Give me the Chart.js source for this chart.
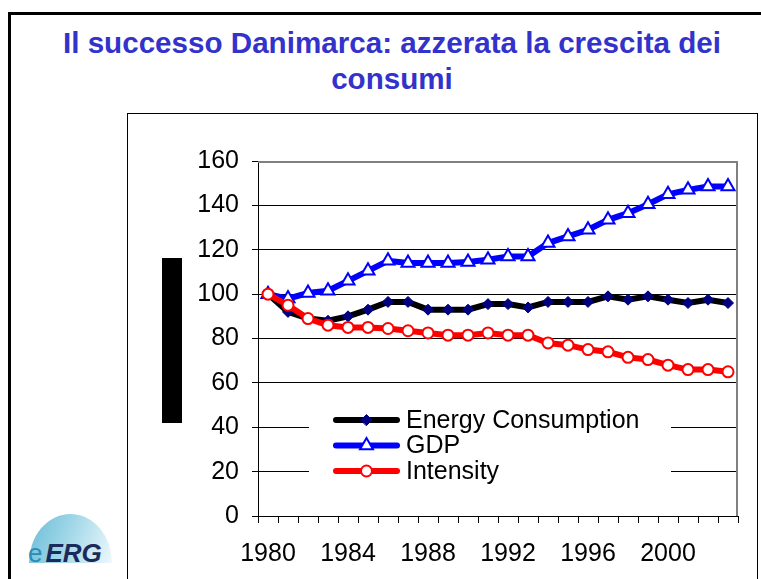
<!DOCTYPE html>
<html>
<head>
<meta charset="utf-8">
<script src="https://cdn.jsdelivr.net/npm/chart.js@4.4.1/dist/chart.umd.min.js"></script>
<style>
  html, body { margin: 0; padding: 0; background: #fff; }
  body { width: 761px; height: 579px; position: relative; overflow: hidden; font-family: 'Liberation Sans', Arial, sans-serif; }
  .frame { position: absolute; left: 8px; top: 12px; width: 900px; height: 700px; border-left: 3px solid #000; border-top: 3px solid #000; }
  .title { position: absolute; left: 22px; width: 740px; top: 25px; text-align: center; color: #3333cc; font-weight: bold; font-size: 29.6px; line-height: 36px; }
  .box { position: absolute; left: 127px; top: 113px; width: 629px; height: 600px; border: 1px solid #000; }
  .bar { position: absolute; left: 162px; top: 258px; width: 20px; height: 165px; background: #000; }
  .dome { position: absolute; left: 29px; top: 514px; width: 83px; height: 49px; border-radius: 50% 50% 0 0 / 100% 100% 0 0;
          background: linear-gradient(110deg, #69bcd8 0%, #9fd6e8 45%, #eef8fc 100%); }
  .logo { position: absolute; left: 28px; top: 540px; font-size: 26px; line-height: 26px; white-space: nowrap; }
  .logo .e { color: #2a8cb6; margin-right: 3px; }
  .logo .erg { color: #1c2a5a; font-weight: bold; font-style: italic; }
  canvas { position: absolute; left: 0; top: 0; }
</style>
</head>
<body>
<div class="frame"></div>
<div class="title">Il successo Danimarca: azzerata la crescita dei<br>consumi</div>
<div class="box"></div>
<div class="bar"></div>
<div class="dome"></div>
<div class="logo"><span class="e">e</span><span class="erg">ERG</span></div>
<canvas id="chart" width="761" height="579"></canvas>
<script>
const years = ['1980', '1981', '1982', '1983', '1984', '1985', '1986', '1987', '1988', '1989', '1990', '1991',
               '1992', '1993', '1994', '1995', '1996', '1997', '1998', '1999', '2000', '2001', '2002', '2003'];
const tickYears = ['1980', '1984', '1988', '1992', '1996', '2000'];
const energyConsumption = [100, 92, 89, 88, 90, 93, 96.5, 96.5, 93, 93, 93, 95.5,
                           95.5, 94, 96.5, 96.5, 96.5, 99, 97.5, 99, 97.5, 96, 97.5, 96];
const gdp = [100, 98, 100.5, 101.5, 106, 110.5, 115, 114, 114, 114, 114.5, 115.5,
             117, 117, 123, 126, 129, 133.5, 136.5, 140.5, 145, 147, 148.5, 148.5];
const intensity = [100, 95, 89, 86, 85, 85, 84.5, 83.5, 82.5, 81.5, 81.5, 82.5,
                   81.5, 81.5, 78, 77, 75, 74, 71.5, 70.5, 68, 66, 66, 65];

Chart.defaults.font.family = "'Liberation Sans', Arial, sans-serif";
Chart.defaults.color = '#000';

// gray frame on top and right of the plot area
const plotFrame = {
  id: 'plotFrame',
  beforeDatasetsDraw(chart) {
    const { ctx, chartArea: a } = chart;
    ctx.save();
    ctx.strokeStyle = '#808080';
    ctx.lineWidth = 2;
    ctx.beginPath();
    ctx.moveTo(a.left, a.top + 1);
    ctx.lineTo(a.right - 1, a.top + 1);
    ctx.lineTo(a.right - 1, a.bottom);
    ctx.stroke();
    ctx.restore();
  }
};

// legend box sitting inside the plot, like the Excel original
const boxLegend = {
  id: 'boxLegend',
  afterDraw(chart, args, opts) {
    const ctx = chart.ctx;
    ctx.save();
    ctx.fillStyle = '#fff';
    ctx.fillRect(opts.x, opts.y, opts.w, opts.h);
    chart.data.datasets.forEach((ds, i) => {
      const y = opts.firstRow + i * opts.rowGap;
      ctx.strokeStyle = ds.borderColor;
      ctx.lineWidth = 6;
      ctx.lineCap = 'round';
      ctx.beginPath();
      ctx.moveTo(opts.lineFrom, y);
      ctx.lineTo(opts.lineTo, y);
      ctx.stroke();
      ctx.fillStyle = ds.pointBackgroundColor;
      ctx.strokeStyle = ds.pointBorderColor;
      ctx.lineWidth = ds.pointBorderWidth;
      Chart.helpers.drawPoint(ctx, { pointStyle: ds.pointStyle, radius: ds.pointRadius, rotation: 0, borderWidth: ds.pointBorderWidth },
        (opts.lineFrom + opts.lineTo) / 2, y);
      ctx.fillStyle = '#000';
      ctx.font = "25px 'Liberation Sans', Arial, sans-serif";
      ctx.textBaseline = 'middle';
      ctx.fillText(ds.label, opts.textX, y + 1);
    });
    ctx.restore();
  }
};

const ctx = document.getElementById('chart').getContext('2d');
const myChart = new Chart(ctx, {
  type: 'line',
  data: {
    labels: years,
    datasets: [
      {
        label: 'Energy Consumption',
        data: energyConsumption,
        borderColor: '#000000',
        borderWidth: 6,
        pointStyle: 'rectRot',
        pointRadius: 5.5,
        pointBackgroundColor: '#000080',
        pointBorderColor: '#000080',
        pointBorderWidth: 1,
        order: 2
      },
      {
        label: 'GDP',
        data: gdp,
        borderColor: '#0000ff',
        borderWidth: 6,
        pointStyle: 'triangle',
        pointRadius: 7.5,
        pointBackgroundColor: '#ffffff',
        pointBorderColor: '#0000ff',
        pointBorderWidth: 2,
        order: 1
      },
      {
        label: 'Intensity',
        data: intensity,
        borderColor: '#ff0000',
        borderWidth: 6,
        pointStyle: 'circle',
        pointRadius: 5.5,
        pointBackgroundColor: '#ffffff',
        pointBorderColor: '#ff0000',
        pointBorderWidth: 2,
        order: 0
      }
    ]
  },
  options: {
    responsive: false,
    animation: false,
    devicePixelRatio: 1,
    layout: { padding: { top: 161, right: 23, bottom: 0, left: 0 } },
    plugins: {
      legend: { display: false },
      tooltip: { enabled: false },
      boxLegend: { x: 309, y: 397, w: 362, h: 96, firstRow: 420, rowGap: 25.5, lineFrom: 336, lineTo: 397, textX: 406 }
    },
    scales: {
      x: {
        offset: true,
        afterFit: s => { s.height = 63; },
        grid: { display: true, drawOnChartArea: false, offset: true, tickLength: 7, color: '#000', lineWidth: 1 },
        border: { display: true, color: '#000', width: 1 },
        ticks: {
          autoSkip: false,
          maxRotation: 0,
          padding: 16,
          font: { size: 25 },
          callback: function (value, index) {
            return tickYears.includes(years[index]) ? years[index] : '';
          }
        }
      },
      y: {
        min: 0,
        max: 160,
        afterFit: s => { s.width = 258; },
        grid: { color: '#000', lineWidth: 1, tickLength: 6 },
        border: { display: true, color: '#000', width: 1 },
        ticks: { stepSize: 20, padding: 13, font: { size: 25 } }
      }
    }
  },
  plugins: [plotFrame, boxLegend]
});
</script>
</body>
</html>
